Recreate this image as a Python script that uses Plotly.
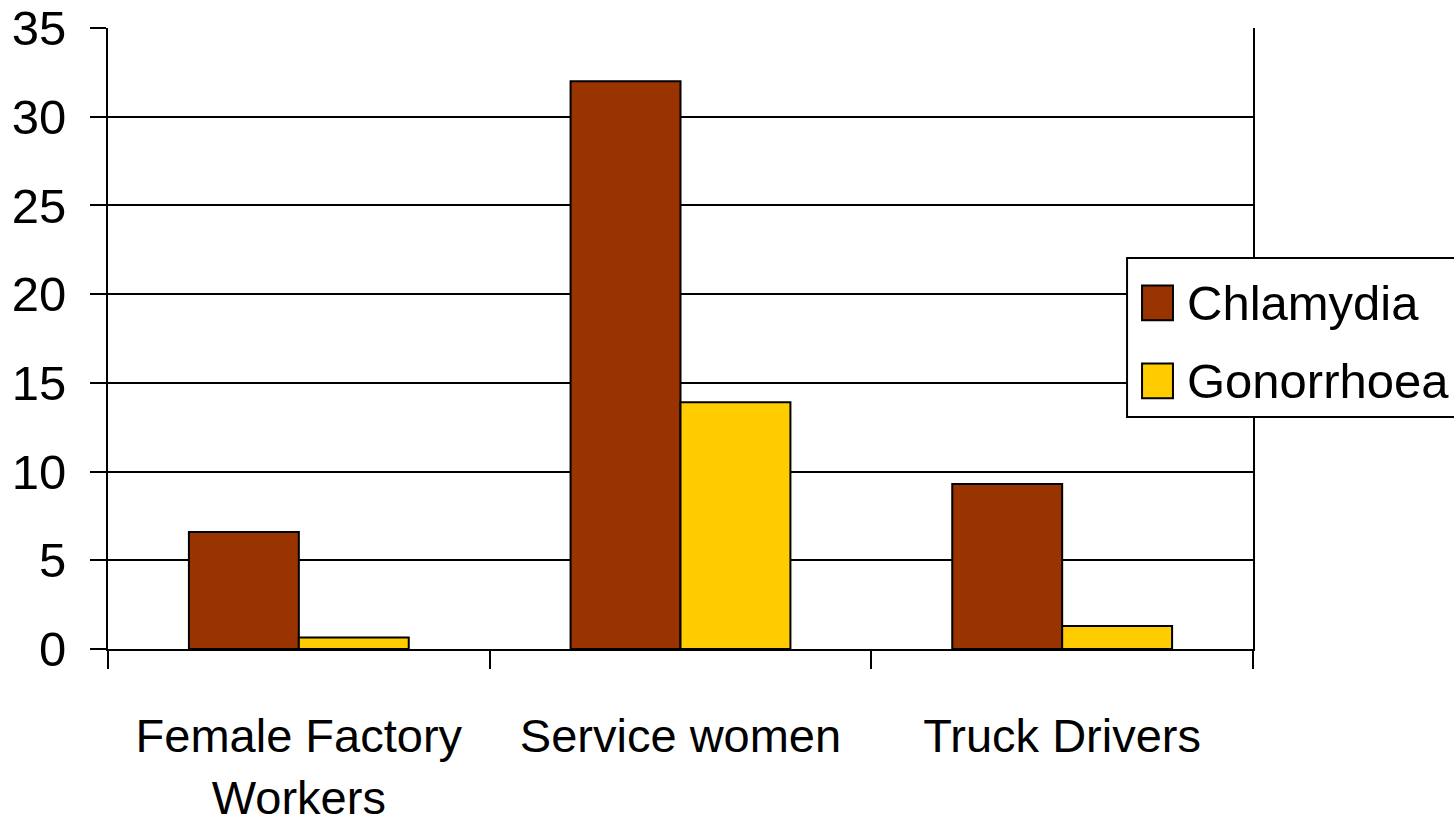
import plotly.graph_objects as go

categories = ["Female Factory<br>Workers", "Service women", "Truck Drivers"]
chlamydia = [6.6, 32.0, 9.3]
gonorrhoea = [0.65, 13.9, 1.3]
series_names = ["Chlamydia", "Gonorrhoea"]
series_colors = ["#993300", "#FFCC00"]

FONT = "Liberation Sans, Arial, sans-serif"

fig = go.Figure()
for name, vals, col in zip(series_names, [chlamydia, gonorrhoea], series_colors):
    fig.add_trace(go.Bar(
        x=categories, y=vals, name=name, showlegend=False,
        marker=dict(color=col, line=dict(color="black", width=2)),
    ))

# hand-made legend (plotly caps legend swatch size)
fig.add_shape(type="rect", xref="paper", yref="paper",
              x0=0.890, x1=1.18, y0=0.3736, y1=0.6296,
              line=dict(color="black", width=2), fillcolor="white", layer="above")
row_y = [0.5572, 0.4316]
for name, col, yc in zip(series_names, series_colors, row_y):
    fig.add_shape(type="rect", xref="paper", yref="paper",
                  x0=0.9031, x1=0.9301, y0=yc - 0.028, y1=yc + 0.028,
                  line=dict(color="black", width=2), fillcolor=col, layer="above")
    fig.add_annotation(text=name, xref="paper", yref="paper", x=0.9405, y=yc,
                       xanchor="left", yanchor="middle", showarrow=False,
                       font=dict(size=49, color="black"))

fig.update_layout(
    width=1454, height=826,
    margin=dict(l=108, r=201, t=28, b=177),
    paper_bgcolor="white", plot_bgcolor="white",
    barmode="group", bargap=0.424, bargroupgap=0,
    font=dict(family=FONT, size=47, color="black"),
    showlegend=False,
)
fig.update_xaxes(
    showline=True, linecolor="black", linewidth=2, automargin=False,
    ticks="outside", tickson="boundaries", ticklen=18, tickwidth=2, tickcolor="black",
    showgrid=False, tickfont=dict(size=47), ticklabelstandoff=45,
)
fig.update_yaxes(
    range=[0, 35], dtick=5, showline=True, linecolor="black", linewidth=2, mirror=True,
    ticks="outside", ticklen=16, tickwidth=2, tickcolor="black", automargin=False,
    showgrid=True, gridcolor="black", gridwidth=2, zeroline=False,
    tickfont=dict(size=49), ticklabelstandoff=14,
)

fig.write_html("out.html", config={"displayModeBar": False},
               post_script="document.body.style.margin='0px';")
